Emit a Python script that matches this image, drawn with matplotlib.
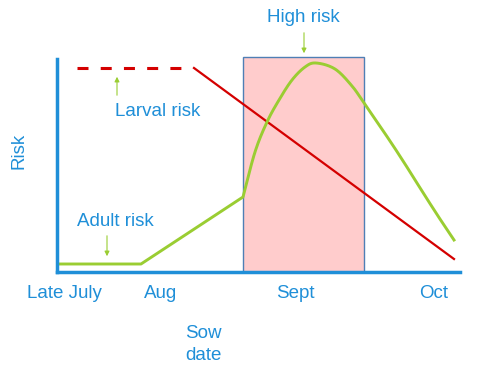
import matplotlib
matplotlib.use("Agg")
import matplotlib.pyplot as plt
import numpy as np
from matplotlib.patches import Rectangle

# Data in chart units (x: sow-date position, y: relative risk)
adult_x = [0, 84, 186, 198, 210, 222, 235, 248, 259, 278, 295, 307, 331, 348, 365, 381, 397]
adult_y = [8, 8, 75, 120, 150, 172, 192, 205, 209, 203, 186, 169, 134, 108, 81, 56, 32]

larval_dash_x = [20, 133]
larval_dash_y = [204, 204]
larval_x = [137, 397]
larval_y = [204, 13]

high_risk_span = (186, 307)
high_risk_top = 215
tick_pos = [7, 104, 238, 377]
tick_labels = ["Late July", "Aug", "Sept", "Oct"]

BLUE = "#1f8fd8"
GREEN = "#9acd32"
RED = "#d40000"
plt.rcParams['font.family'] = ['Liberation Sans', 'DejaVu Sans']


def catmull_rom(xs, ys, n=20):
    xs = np.asarray(xs, float)
    ys = np.asarray(ys, float)
    P = np.column_stack([xs, ys])
    P = np.vstack([2 * P[0] - P[1], P, 2 * P[-1] - P[-2]])
    out = []
    for i in range(1, len(P) - 2):
        p0, p1, p2, p3 = P[i - 1], P[i], P[i + 1], P[i + 2]
        t = np.linspace(0, 1, n, endpoint=False)[:, None]
        seg = 0.5 * ((2 * p1) + (-p0 + p2) * t + (2 * p0 - 5 * p1 + 4 * p2 - p3) * t ** 2
                     + (-p0 + 3 * p1 - 3 * p2 + p3) * t ** 3)
        out.append(seg)
    out.append(P[-2][None, :])
    out = np.vstack(out)
    return out[:, 0], out[:, 1]


fig = plt.figure(figsize=(4.8, 3.78), dpi=100)
W, H = 480, 378
x0, x1, ytop, ybot = 57, 460, 59, 272
ax = fig.add_axes([x0 / W, (H - ybot) / H, (x1 - x0) / W, (ybot - ytop) / H])
ax.set_xlim(0, x1 - x0)
ax.set_ylim(0, ybot - ytop)

ax.add_patch(Rectangle((high_risk_span[0], 0), high_risk_span[1] - high_risk_span[0], high_risk_top,
                       facecolor="#ffcccc", edgecolor="#4f7fb5", linewidth=1.0, zorder=1,
                       clip_on=False))

ax.plot(larval_dash_x, larval_dash_y, color=RED, lw=2.2, dashes=(3.6, 4.0), zorder=3)
ax.plot(larval_x, larval_y, color=RED, lw=1.6, zorder=3)

# straight part then smooth curve
cx, cy = catmull_rom(adult_x[2:], adult_y[2:])
gx = list(adult_x[:2]) + list(cx)
gy = list(adult_y[:2]) + list(cy)
ax.plot(gx, gy, color=GREEN, lw=2.1, zorder=4, solid_joinstyle='round')

for s in ["top", "right"]:
    ax.spines[s].set_visible(False)
for s in ["left", "bottom"]:
    ax.spines[s].set_color(BLUE)
    ax.spines[s].set_linewidth(2.5)
ax.spines["left"].set_zorder(5)
ax.spines["bottom"].set_zorder(5)
ax.set_xticks([])
ax.set_yticks([])

fs = 13.5
def px(x, y):
    return (x - x0, ybot - y)

for p, lab in zip(tick_pos, tick_labels):
    ax.text(p, -21, lab, color=BLUE, fontsize=fs, ha="center", va="center", clip_on=False)

ax.text(*px(203, 333), "Sow", color=BLUE, fontsize=fs, ha="center", va="center", clip_on=False)
ax.text(*px(203, 355), "date", color=BLUE, fontsize=fs, ha="center", va="center", clip_on=False)
ax.text(*px(19, 151), "Risk", color=BLUE, fontsize=fs, ha="center", va="center",
        rotation=90, clip_on=False)
ax.text(*px(303, 18), "High risk", color=BLUE, fontsize=fs, ha="center", va="center", clip_on=False)
ax.text(*px(158, 111), "Larval risk", color=BLUE, fontsize=fs, ha="center", va="center", clip_on=False)
ax.text(*px(115, 222), "Adult risk", color=BLUE, fontsize=fs, ha="center", va="center", clip_on=False)

arrow = dict(arrowstyle="-|>", color=GREEN, lw=0.8, mutation_scale=7)
ax.annotate("", xy=px(117, 74), xytext=px(117, 98), arrowprops=arrow, annotation_clip=False)
ax.annotate("", xy=px(107, 259), xytext=px(107, 233), arrowprops=arrow, annotation_clip=False)
ax.annotate("", xy=px(304, 56), xytext=px(304, 30), arrowprops=arrow, annotation_clip=False)

fig.savefig("out.png", dpi=100)
